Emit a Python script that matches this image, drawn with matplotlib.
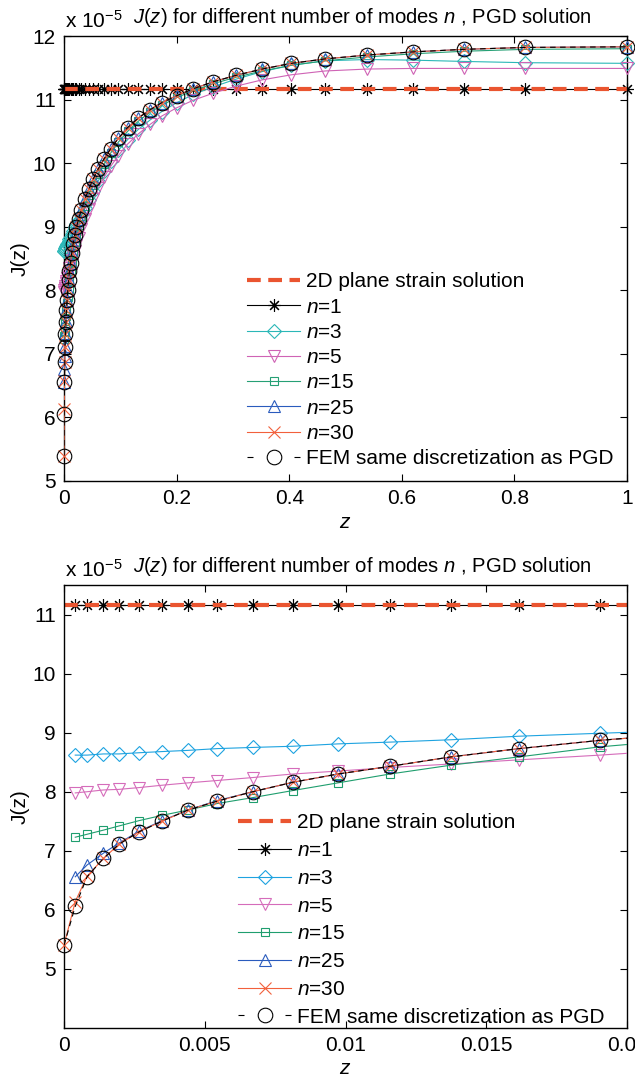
import numpy as np
import matplotlib
matplotlib.use('Agg')
import matplotlib.pyplot as plt
from matplotlib.lines import Line2D

plt.rcParams['font.family'] = ['Liberation Sans', 'DejaVu Sans']
plt.rcParams['mathtext.fontset'] = 'custom'
plt.rcParams['mathtext.rm'] = 'Liberation Sans'
plt.rcParams['mathtext.it'] = 'Liberation Sans:italic'
plt.rcParams['font.size'] = 15

# nodes along z (same mesh for both views)
z = [0, 0.0004, 0.00082, 0.0014, 0.00195, 0.00266, 0.00348, 0.0044, 0.00544, 0.0067,
     0.00813, 0.00973, 0.01158, 0.01375, 0.01616, 0.01904,
     0.0222, 0.0258, 0.0310, 0.0370, 0.0440, 0.0518, 0.0608, 0.0714, 0.0830, 0.0965,
     0.1130, 0.1320, 0.1530, 0.1735, 0.2000, 0.2297, 0.2650, 0.3050, 0.3520, 0.4040,
     0.4640, 0.5380, 0.6200, 0.7100, 0.8190, 1.0]

# J(z) values, x 1e-5
j_2d = 11.16
j_fem = [5.40, 6.06, 6.56, 6.87, 7.11, 7.32, 7.50, 7.69, 7.84, 8.00, 8.16, 8.30, 8.43, 8.59, 8.73, 8.87,
         8.99, 9.12, 9.27, 9.43, 9.59, 9.75, 9.91, 10.07, 10.23, 10.39, 10.56, 10.71, 10.84, 10.95,
         11.06, 11.17, 11.28, 11.38, 11.48, 11.57, 11.64, 11.70, 11.75, 11.79, 11.82, 11.83]
j_n30 = [5.40, 6.14, 6.57, 6.87, 7.11, 7.32, 7.50, 7.69, 7.84, 8.00, 8.16, 8.30, 8.43, 8.59, 8.73, 8.87,
         8.99, 9.12, 9.27, 9.43, 9.59, 9.75, 9.91, 10.07, 10.23, 10.39, 10.56, 10.71, 10.84, 10.95,
         11.06, 11.17, 11.28, 11.38, 11.48, 11.57, 11.64, 11.70, 11.75, 11.79, 11.82, 11.83]
# PGD series below start at the second node
j_n25 = [6.56, 6.76, 6.96, 7.13, 7.33, 7.51, 7.69, 7.85, 8.00, 8.16, 8.30, 8.43, 8.59, 8.73, 8.87,
         8.99, 9.12, 9.27, 9.43, 9.59, 9.75, 9.91, 10.07, 10.23, 10.39, 10.56, 10.71, 10.84, 10.95,
         11.06, 11.17, 11.28, 11.38, 11.48, 11.57, 11.64, 11.70, 11.75, 11.79, 11.82, 11.83]
j_n15 = [7.23, 7.28, 7.35, 7.42, 7.51, 7.60, 7.69, 7.80, 7.90, 8.02, 8.15, 8.30, 8.45, 8.59, 8.76,
         8.89, 9.02, 9.17, 9.33, 9.50, 9.66, 9.83, 9.99, 10.16, 10.33, 10.50, 10.66, 10.80, 10.91,
         11.03, 11.14, 11.25, 11.35, 11.45, 11.54, 11.61, 11.67, 11.72, 11.76, 11.79, 11.80]
j_n5 = [7.98, 8.00, 8.03, 8.04, 8.07, 8.11, 8.15, 8.19, 8.24, 8.30, 8.35, 8.41, 8.47, 8.54, 8.62,
        8.72, 8.83, 8.97, 9.12, 9.28, 9.44, 9.61, 9.78, 9.95, 10.12, 10.30, 10.46, 10.61, 10.74,
        10.87, 10.99, 11.10, 11.21, 11.31, 11.39, 11.45, 11.48, 11.49, 11.49, 11.49, 11.49]
j_n3 = [8.62, 8.62, 8.64, 8.64, 8.66, 8.68, 8.70, 8.73, 8.75, 8.77, 8.81, 8.84, 8.88, 8.94, 8.99,
        9.04, 9.10, 9.18, 9.29, 9.42, 9.56, 9.72, 9.88, 10.04, 10.20, 10.37, 10.53, 10.68, 10.81,
        10.95, 11.08, 11.20, 11.32, 11.44, 11.54, 11.61, 11.63, 11.62, 11.60, 11.58, 11.57]
j_n1 = [11.16] * 41

labels = ['2D plane strain solution', '$n$=1', '$n$=3', '$n$=5', '$n$=15', '$n$=25', '$n$=30',
          'FEM same discretization as PGD']
title = '$J$($z$) for different number of modes $n$ , PGD solution'

top_xticks = [0, 0.2, 0.4, 0.6, 0.8, 1]
top_xlabels = ['0', '0.2', '0.4', '0.6', '0.8', '1']
bot_xticks = [0, 0.005, 0.01, 0.015, 0.02]
bot_xlabels = ['0', '0.005', '0.01', '0.015', '0.02']

RED = '#ea5530'


def panel(ax, xmax, ylim, yticks, xticks, xlabels, c3, c5, c15):
    zz = np.array(z)
    specs = [
        (zz[1:], j_n1, 'black', (8, 2, 0), 9, '-'),
        (zz[1:], j_n3, c3, 'D', 7, '-'),
        (zz[1:], j_n5, c5, 'v', 8, '-'),
        (zz[1:], j_n15, c15, 's', 6, '-'),
        (zz[1:], j_n25, '#2a5bbd', '^', 8, '-'),
        (zz, j_n30, '#f2603c', 'x', 9, '-'),
        (zz, j_fem, 'black', 'o', 10.5, (0, (5, 4))),
    ]
    handles = [Line2D([], [], color=RED, lw=3, ls=(0, (3.3, 1.8)))]
    for k, (zs, js, col, mk, ms, ls) in enumerate(specs):
        ax.plot(zs, js, color=col, lw=0.8, ls=ls, zorder=2 + k)
        if k == 0:
            # 2D plane strain reference
            ax.plot([z[0], z[-1]], [j_2d, j_2d], color=RED, lw=3, ls=(0, (3.3, 1.8)), zorder=2.5)
        m = zs <= xmax * 1.0001
        ax.plot(zs[m], np.array(js)[m], ls='none', marker=mk, ms=ms, mfc='none', mec=col,
                mew=0.8, clip_on=False, zorder=2.2 + k)
        # legend: FEM handle shows a short dash at each end
        handles.append(Line2D([], [], color=col, lw=0.8, ls='-' if k < 6 else (0, (5.4, 36.9)),
                              marker=mk, ms=ms, mfc='none', mec=col, mew=0.8))
    ax.set_xlim(0, xmax)
    ax.set_ylim(*ylim)
    ax.set_yticks(yticks)
    ax.set_yticklabels([str(v) for v in yticks])
    ax.set_xticks(xticks)
    ax.set_xticklabels(xlabels)
    ax.tick_params(direction='in', length=5, width=0.8, top=True, right=True, pad=6, labelsize=15)
    for s in ax.spines.values():
        s.set_linewidth(1.0)
    ax.set_xlabel('$z$', fontsize=15, labelpad=3)
    ax.set_ylabel('J(z)', fontsize=15, labelpad=2)
    return handles


fig = plt.figure(figsize=(6.35, 10.83), dpi=100)
W, H = 635.0, 1083.0

ax1 = fig.add_axes([64 / W, 1 - 481 / H, 563 / W, 445 / H])
h1 = panel(ax1, 1.0, (5, 12), list(range(5, 13)), top_xticks, top_xlabels,
           '#2bb7b7', '#cf63b5', '#26a075')
ax1.legend(h1, labels, loc='lower left', bbox_to_anchor=(0.325, 0.029), frameon=False,
           fontsize=15, handlelength=2.55, handletextpad=0.3, labelspacing=0.30,
           borderpad=0, borderaxespad=0)

ax2 = fig.add_axes([64 / W, 1 - 1028 / H, 563 / W, 443 / H])
h2 = panel(ax2, 0.02, (4, 11.5), list(range(5, 12)), bot_xticks, bot_xlabels,
           '#1ea3e0', '#d56cba', '#1f9e6e')
ax2.legend(h2, labels, loc='lower left', bbox_to_anchor=(0.309, 0.003), frameon=False,
           fontsize=15, handlelength=2.55, handletextpad=0.3, labelspacing=0.42,
           borderpad=0, borderaxespad=0)

# MATLAB-style exponent and titles
for top_px in (36, 585):
    fig.text(65 / W, 1 - (top_px - 8) / H, r'x 10$^{-5}$', fontsize=15, va='baseline', ha='left')
    fig.text(362 / W, 1 - (top_px - 13) / H, title, fontsize=14.6, va='baseline', ha='center')

fig.savefig('out.png', dpi=100)
